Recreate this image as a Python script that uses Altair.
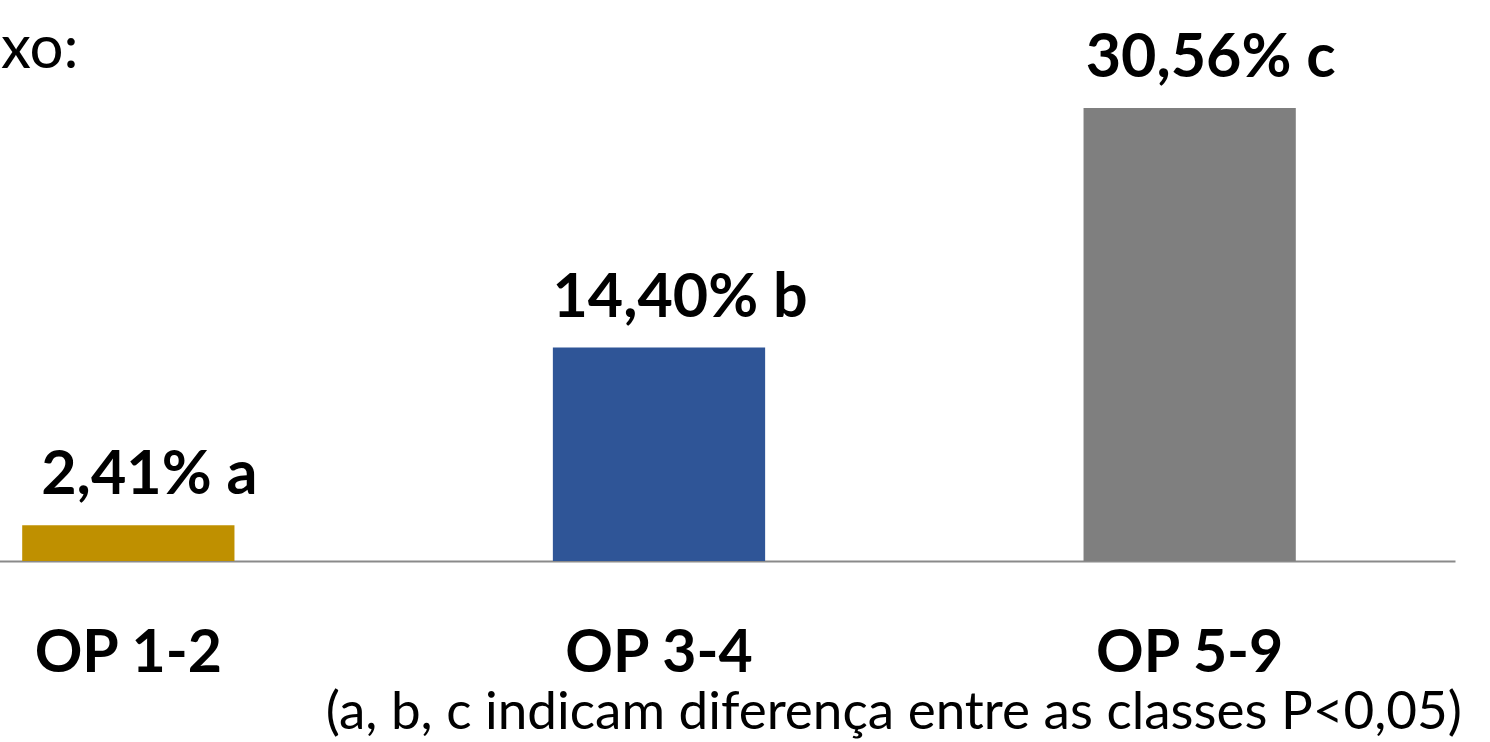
import altair as alt
import pandas as pd

categories = ["OP 1-2", "OP 3-4", "OP 5-9"]
values = [2.41, 14.40, 30.56]
letters = ["a", "b", "c"]
colors = ["#BF9000", "#2F5597", "#7F7F7F"]
footnote = "(a, b, c indicam diferença entre as classes P<0,05)"
corner_text = "xo:"

labels = [f"{v:.2f}".replace(".", ",") + "% " + l for v, l in zip(values, letters)]
df = pd.DataFrame({"cat": categories, "value": values, "label": labels, "color": colors})

x_enc = alt.X(
    "cat:N",
    sort=categories,
    scale=alt.Scale(range=[-137, 1455], paddingInner=0.6, paddingOuter=0.3),
    axis=alt.Axis(
        title=None, labelAngle=0, labelFont="Lato", labelFontWeight="bold",
        labelFontSize=59, labelColor="black", labelPadding=110, labelLimit=0,
        labelBaseline="alphabetic", ticks=False, tickSize=0,
        domainColor="#8a8a8a", domainWidth=2, grid=False,
    ),
)
y_enc = alt.Y("value:Q", scale=alt.Scale(domain=[0, 37.85]), axis=None)

base = alt.Chart(df).encode(x=x_enc, y=y_enc)

bars = base.mark_bar().encode(color=alt.Color("color:N", scale=None))

value_text = base.mark_text(
    font="Lato", fontWeight="bold", fontSize=61, color="black",
    baseline="alphabetic", dy=-31, dx=21,
).encode(text="label:N")

foot = alt.Chart(pd.DataFrame({"t": [footnote]})).mark_text(
    align="right", baseline="alphabetic", font="Lato", fontSize=53, color="black"
).encode(x=alt.value(1462), y=alt.value(729), text="t:N")

corner = alt.Chart(pd.DataFrame({"t": [corner_text]})).mark_text(
    align="left", baseline="alphabetic", font="Lato", fontSize=60, color="black"
).encode(x=alt.value(1), y=alt.value(68), text="t:N")

chart = alt.layer(bars, value_text, foot, corner).properties(
    width=1490, height=561, autosize="none",
    padding={"left": 0, "top": 0, "right": 0, "bottom": 181},
    background="white",
).configure_view(stroke=None)

chart.save("out.html", embed_options={"renderer": "svg", "actions": False})
